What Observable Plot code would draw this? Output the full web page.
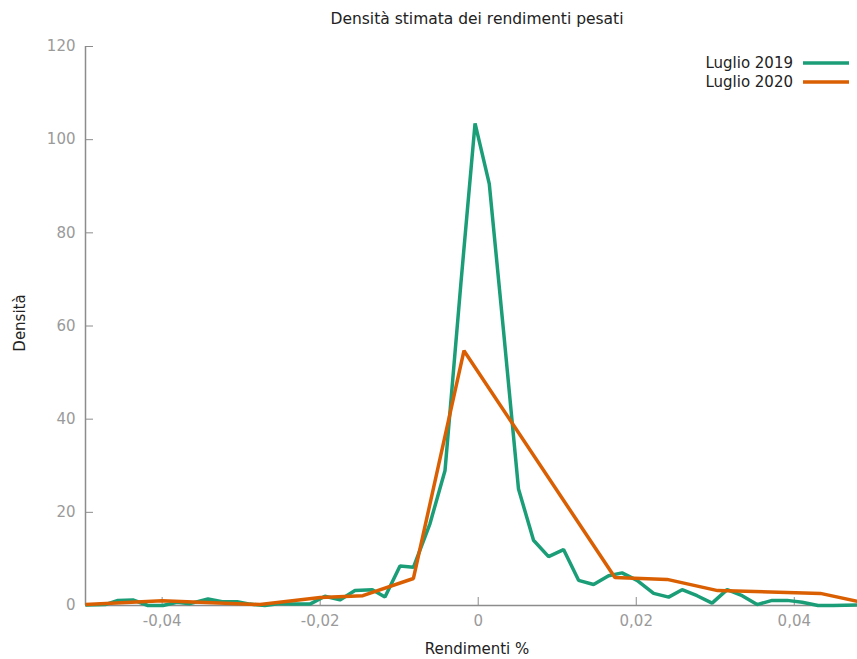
<!DOCTYPE html>
<html>
<head>
<meta charset="utf-8">
<script src="https://cdn.jsdelivr.net/npm/d3@7"></script>
<script src="https://cdn.jsdelivr.net/npm/@observablehq/plot@0.6"></script>
<style>
  html, body { margin: 0; padding: 0; background: #fff; }
  #wrap { position: relative; width: 857px; height: 659px; font-family: "DejaVu Sans", Verdana, sans-serif; color: #222; }
  #title { position: absolute; top: 10px; left: 477px; transform: translateX(-50%); font-size: 15.5px; white-space: nowrap; }
  #ylab { position: absolute; left: 20px; top: 323px; transform: translate(-50%, -50%) rotate(-90deg); font-size: 15px; white-space: nowrap; }
  #xlab { position: absolute; left: 477px; top: 649px; transform: translate(-50%, -50%); font-size: 15px; white-space: nowrap; }
  #legend { position: absolute; right: 8px; top: 53px; font-size: 15px; }
  .row { display: flex; align-items: center; justify-content: flex-end; height: 19px; }
  .row svg { margin-left: 10px; }
</style>
</head>
<body>
<div id="wrap">
  <div id="plot"></div>
  <div id="title"></div>
  <div id="ylab"></div>
  <div id="xlab"></div>
  <div id="legend"></div>
</div>
<script>
const titleText = "Densità stimata dei rendimenti pesati";
const yLabel = "Densità";
const xLabel = "Rendimenti %";
const seriesNames = ["Luglio 2019", "Luglio 2020"];
const seriesColors = ["#1b9e77", "#d95f02"];

const xDomain = [-0.0497, 0.048];
const yDomain = [0, 120];
const xTicks = [-0.04, -0.02, 0, 0.02, 0.04];
const yTicks = [0, 20, 40, 60, 80, 100, 120];

const ret2019 = [-0.0497, -0.0472, -0.0456, -0.0437, -0.0418, -0.0399, -0.0381, -0.0365, -0.0342, -0.0324,
  -0.0305, -0.0289, -0.0270, -0.0251, -0.0234, -0.0213, -0.0194, -0.0175, -0.0156, -0.0134,
  -0.0118, -0.0099, -0.0082, -0.0061, -0.0042, -0.0022, -0.0004, 0.0014, 0.0032, 0.0051,
  0.0070, 0.0089, 0.0108, 0.0127, 0.0146, 0.0165, 0.0182, 0.0201, 0.0222, 0.0241,
  0.0258, 0.0277, 0.0296, 0.0315, 0.0334, 0.0353, 0.0372, 0.0391, 0.0410, 0.0430,
  0.0449, 0.0480];
const dens2019 = [0.1, 0.2, 1.1, 1.2, 0.0, 0.0, 0.7, 0.4, 1.4, 0.8,
  0.8, 0.3, 0.0, 0.4, 0.3, 0.3, 2.0, 1.2, 3.2, 3.4,
  1.8, 8.5, 8.2, 17.6, 29.0, 69.0, 103.5, 90.5, 59.0, 25.0,
  14.0, 10.5, 12.0, 5.4, 4.5, 6.4, 7.0, 5.4, 2.6, 1.8,
  3.4, 2.1, 0.5, 3.4, 2.1, 0.2, 1.1, 1.1, 0.7, 0.0,
  0.0, 0.1];

const ret2020 = [-0.0497, -0.0400, -0.0276, -0.0200, -0.0146, -0.0082, -0.0018, 0.0173, 0.0239, 0.0303, 0.0433, 0.0480];
const dens2020 = [0.2, 1.0, 0.2, 1.7, 2.1, 5.8, 54.7, 6.0, 5.6, 3.2, 2.6, 0.9];

const d2019 = ret2019.map((x, i) => ({x, y: dens2019[i]}));
const d2020 = ret2020.map((x, i) => ({x, y: dens2020[i]}));

const fmt = d => d === 0 ? "0" : d.toFixed(2).replace(".", ",");
const axisGray = "#8c8c8c";
const labelGray = "#9a9a9a";

const chart = Plot.plot({
  width: 857,
  height: 659,
  marginTop: 46,
  marginBottom: 54,
  marginLeft: 85,
  marginRight: 0,
  style: {fontFamily: "DejaVu Sans, Verdana, sans-serif", fontSize: "15px", background: "#fff"},
  x: {domain: xDomain},
  y: {domain: yDomain},
  marks: [
    Plot.axisY({ticks: yTicks, tickSize: 8, dx: 8, tickFormat: () => "", stroke: axisGray, label: null}),
    Plot.axisY({ticks: yTicks, tickSize: 0, tickPadding: 10, fill: labelGray, label: null}),
    Plot.axisX({ticks: xTicks, tickSize: 8, dy: -8, tickFormat: () => "", stroke: axisGray, label: null}),
    Plot.axisX({ticks: xTicks, tickSize: 0, tickPadding: 10, tickFormat: fmt, fill: labelGray, label: null}),
    Plot.ruleY([yDomain[0]], {stroke: axisGray, strokeWidth: 1.5}),
    Plot.ruleX([xDomain[0]], {stroke: axisGray, strokeWidth: 1.5}),
    Plot.line(d2019, {x: "x", y: "y", stroke: seriesColors[0], strokeWidth: 3.5, strokeLinejoin: "miter", strokeLinecap: "butt"}),
    Plot.line(d2020, {x: "x", y: "y", stroke: seriesColors[1], strokeWidth: 3.5, strokeLinejoin: "miter", strokeLinecap: "butt"})
  ]
});
document.getElementById("plot").appendChild(chart);
document.getElementById("title").textContent = titleText;
document.getElementById("ylab").textContent = yLabel;
document.getElementById("xlab").textContent = xLabel;
const legend = document.getElementById("legend");
seriesNames.forEach((name, i) => {
  const row = document.createElement("div");
  row.className = "row";
  row.innerHTML = `<span>${name}</span><svg width="46" height="6"><line x1="0" x2="46" y1="3" y2="3" stroke="${seriesColors[i]}" stroke-width="3.5"/></svg>`;
  legend.appendChild(row);
});
</script>
</body>
</html>
